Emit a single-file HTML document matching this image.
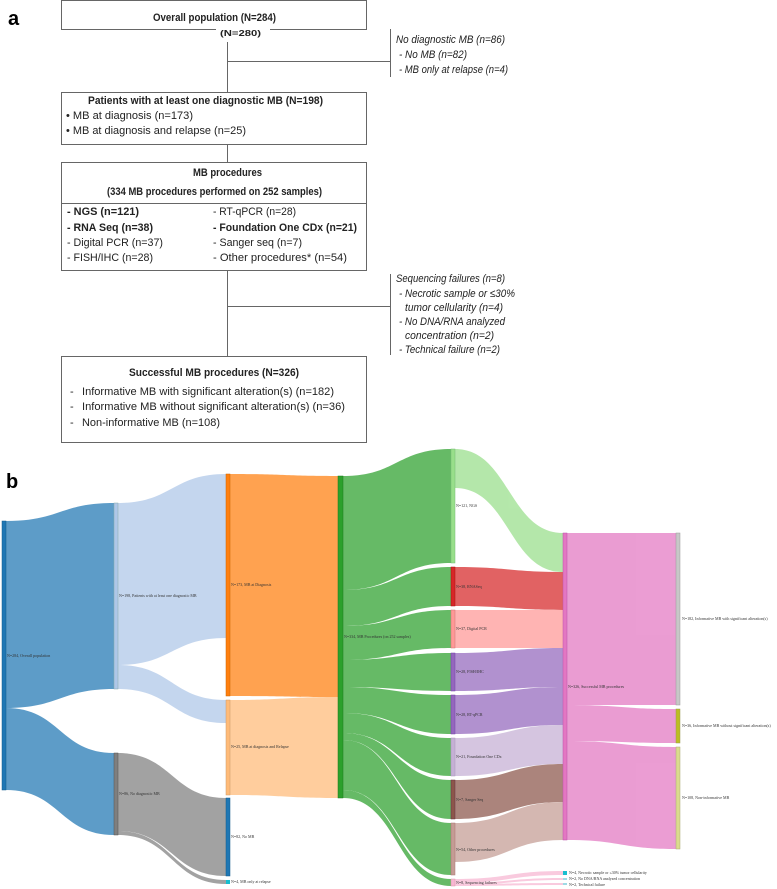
<!DOCTYPE html>
<html><head><meta charset="utf-8"><style>
html,body{margin:0;padding:0;background:#fff}
svg{display:block}
.t{font-family:"Liberation Sans",sans-serif;font-size:11px;fill:#222}
.b{font-weight:bold}
.i{font-style:italic}
.s{font-family:"Liberation Serif",serif;font-size:4px;fill:#333}
</style></head><body>
<svg width="777" height="889" viewBox="0 0 777 889" xmlns="http://www.w3.org/2000/svg">
<text x="8" y="25" style="font-family:'Liberation Sans',sans-serif;font-size:20px;font-weight:bold">a</text>
<g fill="none" stroke="#666" stroke-width="1">
<path d="M216 29.5H61.5V0.5H366.5V29.5H270"/>
<path d="M227.5 42V92M227.5 61.5H390.5M390.5 29V77"/>
<rect x="61.5" y="92.5" width="305" height="52"/>
<path d="M227.5 145V162"/>
<rect x="61.5" y="162.5" width="305" height="108"/>
<path d="M62 203.5H366"/>
<path d="M227.5 271V356M227.5 306.5H390.5M390.5 274V355"/>
<rect x="61.5" y="356.5" width="305" height="86"/>
</g>
<g lengthAdjust="spacingAndGlyphs">
<text class="t b" x="153" y="21" textLength="123" lengthAdjust="spacingAndGlyphs">Overall population (N=284)</text>
<text class="t b" x="220" y="36" style="font-size:8px" textLength="41" lengthAdjust="spacingAndGlyphs">(N=280)</text>
<text class="t i" x="396" y="43" textLength="109" lengthAdjust="spacingAndGlyphs">No diagnostic MB (n=86)</text>
<text class="t i" x="399" y="58" textLength="68" lengthAdjust="spacingAndGlyphs">- No MB (n=82)</text>
<text class="t i" x="399" y="73" textLength="109" lengthAdjust="spacingAndGlyphs">- MB only at relapse (n=4)</text>
<text class="t b" x="88" y="104" textLength="235" lengthAdjust="spacingAndGlyphs">Patients with at least one diagnostic MB (N=198)</text>
<text class="t" x="66" y="119" textLength="127" lengthAdjust="spacingAndGlyphs">• MB at diagnosis (n=173)</text>
<text class="t" x="66" y="134" textLength="180" lengthAdjust="spacingAndGlyphs">• MB at diagnosis and relapse (n=25)</text>
<text class="t b" x="193" y="176" textLength="69" lengthAdjust="spacingAndGlyphs">MB procedures</text>
<text class="t b" x="107" y="195" textLength="215" lengthAdjust="spacingAndGlyphs">(334 MB procedures performed on 252 samples)</text>
<text class="t b" x="67" y="215" textLength="72" lengthAdjust="spacingAndGlyphs">- NGS (n=121)</text>
<text class="t b" x="67" y="231" textLength="86" lengthAdjust="spacingAndGlyphs">- RNA Seq (n=38)</text>
<text class="t" x="67" y="246" textLength="96" lengthAdjust="spacingAndGlyphs">- Digital PCR (n=37)</text>
<text class="t" x="67" y="261" textLength="86" lengthAdjust="spacingAndGlyphs">- FISH/IHC (n=28)</text>
<text class="t" x="213" y="215" textLength="83" lengthAdjust="spacingAndGlyphs">- RT-qPCR (n=28)</text>
<text class="t b" x="213" y="231" textLength="144" lengthAdjust="spacingAndGlyphs">- Foundation One CDx (n=21)</text>
<text class="t" x="213" y="246" textLength="89" lengthAdjust="spacingAndGlyphs">- Sanger seq (n=7)</text>
<text class="t" x="213" y="261" textLength="134" lengthAdjust="spacingAndGlyphs">- Other procedures* (n=54)</text>
<text class="t i" x="396" y="282" textLength="109" lengthAdjust="spacingAndGlyphs">Sequencing failures (n=8)</text>
<text class="t i" x="399" y="297" textLength="116" lengthAdjust="spacingAndGlyphs">- Necrotic sample or ≤30%</text>
<text class="t i" x="405" y="311" textLength="98" lengthAdjust="spacingAndGlyphs">tumor cellularity (n=4)</text>
<text class="t i" x="399" y="325" textLength="106" lengthAdjust="spacingAndGlyphs">- No DNA/RNA analyzed</text>
<text class="t i" x="405" y="339" textLength="89" lengthAdjust="spacingAndGlyphs">concentration (n=2)</text>
<text class="t i" x="399" y="353" textLength="101" lengthAdjust="spacingAndGlyphs">- Technical failure (n=2)</text>
<text class="t b" x="129" y="376" textLength="170" lengthAdjust="spacingAndGlyphs">Successful MB procedures (N=326)</text>
<text class="t" x="70" y="395">-</text><text class="t" x="70" y="410">-</text><text class="t" x="70" y="426">-</text>
<text class="t" x="82" y="395" textLength="252" lengthAdjust="spacingAndGlyphs">Informative MB with significant alteration(s) (n=182)</text>
<text class="t" x="82" y="410" textLength="263" lengthAdjust="spacingAndGlyphs">Informative MB without significant alteration(s) (n=36)</text>
<text class="t" x="82" y="426" textLength="138" lengthAdjust="spacingAndGlyphs">Non-informative MB (n=108)</text>
</g>
<text x="6" y="488" style="font-family:'Liberation Sans',sans-serif;font-size:20px;font-weight:bold">b</text>

<g opacity="0.72">
<path fill="#1f77b4" d="M6 521C60 521 60 503 114 503L114 689C60 689 60 708 6 708Z"/>
<path fill="#1f77b4" d="M6 708C60 708 60 753 114 753L114 835C60 835 60 790 6 790Z"/>
<path fill="#aec7e8" d="M118 503C172 503 172 474 226 474L226 638C172 638 172 665 118 665Z"/>
<path fill="#aec7e8" d="M118 665C172 665 172 700 226 700L226 723C172 723 172 689 118 689Z"/>
<path fill="#7f7f7f" d="M118 753C172 753 172 798 226 798L226 876C172 876 172 831 118 831Z"/>
<path fill="#7f7f7f" d="M118 831C172 831 172 880 226 880L226 884C172 884 172 835 118 835Z"/>
<path fill="#ff7f0e" d="M230 474C284 474 284 476 338 476L338 697C284 697 284 696 230 696Z"/>
<path fill="#ffbb78" d="M230 700C284 700 284 697 338 697L338 798C284 798 284 795 230 795Z"/>
<g fill="#2ca02c">
<path d="M343 476C397 476 397 449 451 449L451 563C397 563 397 590 343 590Z"/>
<path d="M343 590C397 590 397 567 451 567L451 606C397 606 397 626 343 626Z"/>
<path d="M343 626C397 626 397 610 451 610L451 648C397 648 397 660 343 660Z"/>
<path d="M343 660C397 660 397 653 451 653L451 691C397 691 397 687 343 687Z"/>
<path d="M343 687C397 687 397 695 451 695L451 734C397 734 397 713 343 713Z"/>
<path d="M343 713C397 713 397 738 451 738L451 776C397 776 397 733 343 733Z"/>
<path d="M343 733C397 733 397 780 451 780L451 819C397 819 397 740 343 740Z"/>
<path d="M343 740C397 740 397 823 451 823L451 875C397 875 397 790 343 790Z"/>
<path d="M343 790C397 790 397 879 451 879L451 886C397 886 397 798 343 798Z"/>
</g>
<path fill="#98df8a" d="M455 449C509 449 509 533 563 533L563 572C509 572 509 488 455 488Z"/>
<path fill="#d62728" d="M455 567C509 567 509 572 563 572L563 610C509 610 509 606 455 606Z"/>
<path fill="#ff9896" d="M455 610C509 610 509 610 563 610L563 648C509 648 509 648 455 648Z"/>
<path fill="#9467bd" d="M455 653C509 653 509 648 563 648L563 687C509 687 509 691 455 691Z"/>
<path fill="#9467bd" d="M455 695C509 695 509 687 563 687L563 725C509 725 509 734 455 734Z"/>
<path fill="#c5b0d5" d="M455 738C509 738 509 725 563 725L563 764C509 764 509 776 455 776Z"/>
<path fill="#8c564b" d="M455 780C509 780 509 764 563 764L563 802C509 802 509 819 455 819Z"/>
<path fill="#c49c94" d="M455 823C509 823 509 802 563 802L563 840C509 840 509 862 455 862Z"/>
<g fill="#f7b6d2">
<path d="M455 879C509 879 509 871 563 871L563 875C509 875 509 883 455 883Z"/>
<path d="M455 883C509 883 509 878 563 878L563 880C509 880 509 885 455 885Z"/>
<path d="M455 884C509 884 509 883 563 883L563 885C509 885 509 886 455 886Z"/>
</g>
<g fill="#e377c2">
<path d="M567 533C621 533 621 533 676 533L676 705C621 705 621 705 567 705Z"/>
<path d="M567 705C621 705 621 709 676 709L676 743C621 743 621 741 567 741Z"/>
<path d="M567 741C621 741 621 747 676 747L676 849C621 849 621 840 567 840Z"/>
</g>
</g>
<g stroke-width="0.5">
<rect x="2" y="521" width="4" height="269" fill="#1f77b4" stroke="#155a8a"/>
<rect x="114" y="503" width="4" height="186" fill="#aec7e8" stroke="#8aa"/>
<rect x="114" y="753" width="4" height="82" fill="#7f7f7f" stroke="#555"/>
<rect x="226" y="474" width="4" height="222" fill="#ff7f0e" stroke="#c60"/>
<rect x="226" y="700" width="4" height="95" fill="#ffbb78" stroke="#c96"/>
<rect x="226" y="798" width="4" height="78" fill="#1f77b4" stroke="#155a8a"/>
<rect x="226" y="880" width="4" height="4" fill="#17becf"/>
<rect x="338" y="476" width="5" height="322" fill="#2ca02c" stroke="#1a7a1a"/>
<rect x="451" y="449" width="4" height="114" fill="#98df8a" stroke="#7b7"/>
<rect x="451" y="567" width="4" height="39" fill="#d62728" stroke="#a11"/>
<rect x="451" y="610" width="4" height="38" fill="#ff9896" stroke="#c77"/>
<rect x="451" y="653" width="4" height="38" fill="#9467bd" stroke="#74a"/>
<rect x="451" y="695" width="4" height="39" fill="#9467bd" stroke="#74a"/>
<rect x="451" y="738" width="4" height="38" fill="#c5b0d5" stroke="#a9b"/>
<rect x="451" y="780" width="4" height="39" fill="#8c564b" stroke="#634"/>
<rect x="451" y="823" width="4" height="52" fill="#c49c94" stroke="#a77"/>
<rect x="451" y="879" width="4" height="7" fill="#f7b6d2" stroke="#d9a"/>
<rect x="563" y="533" width="4" height="307" fill="#e377c2" stroke="#b5a"/>
<rect x="563" y="871" width="4" height="4" fill="#17becf"/>
<rect x="563" y="878" width="4" height="2" fill="#9edae5"/>
<rect x="563" y="883" width="4" height="2" fill="#9edae5"/>
<rect x="676" y="533" width="4" height="172" fill="#c7c7c7" stroke="#999"/>
<rect x="676" y="709" width="4" height="34" fill="#bcbd22" stroke="#995"/>
<rect x="676" y="747" width="4" height="102" fill="#dbdb8d" stroke="#aa7"/>
</g>
<text class="s" x="7" y="657">N=284, Overall population</text>
<text class="s" x="119" y="597">N=198, Patients with at least one diagnostic MB</text>
<text class="s" x="119" y="795">N=86, No diagnostic MB</text>
<text class="s" x="231" y="586">N=173, MB at Diagnosis</text>
<text class="s" x="231" y="748">N=25, MB at diagnosis and Relapse</text>
<text class="s" x="231" y="838">N=82, No MB</text>
<text class="s" x="231" y="883">N=4, MB only at relapse</text>
<text class="s" x="344" y="638">N=334, MB Procedures (on 252 samples)</text>
<text class="s" x="456" y="507">N=121, NGS</text>
<text class="s" x="456" y="588">N=38, RNASeq</text>
<text class="s" x="456" y="630">N=37, Digital PCR</text>
<text class="s" x="456" y="673">N=28, FISH/IHC</text>
<text class="s" x="456" y="716">N=28, RT-qPCR</text>
<text class="s" x="456" y="758">N=21, Foundation One CDx</text>
<text class="s" x="456" y="801">N=7, Sanger Seq</text>
<text class="s" x="456" y="851">N=54, Other procedures</text>
<text class="s" x="456" y="884">N=8, Sequencing failures</text>
<text class="s" x="568" y="688">N=326, Successful MB procedures</text>
<text class="s" x="569" y="874">N=4, Necrotic sample or ≤30% tumor cellularity</text>
<text class="s" x="569" y="880">N=2, No DNA/RNA analyzed concentration</text>
<text class="s" x="569" y="886">N=2, Technical failure</text>
<text class="s" x="682" y="620">N=182, Informative MB with significant alteration(s)</text>
<text class="s" x="682" y="727">N=36, Informative MB without significant alteration(s)</text>
<text class="s" x="682" y="799">N=108, Non-informative MB</text>
</svg>
</body></html>
